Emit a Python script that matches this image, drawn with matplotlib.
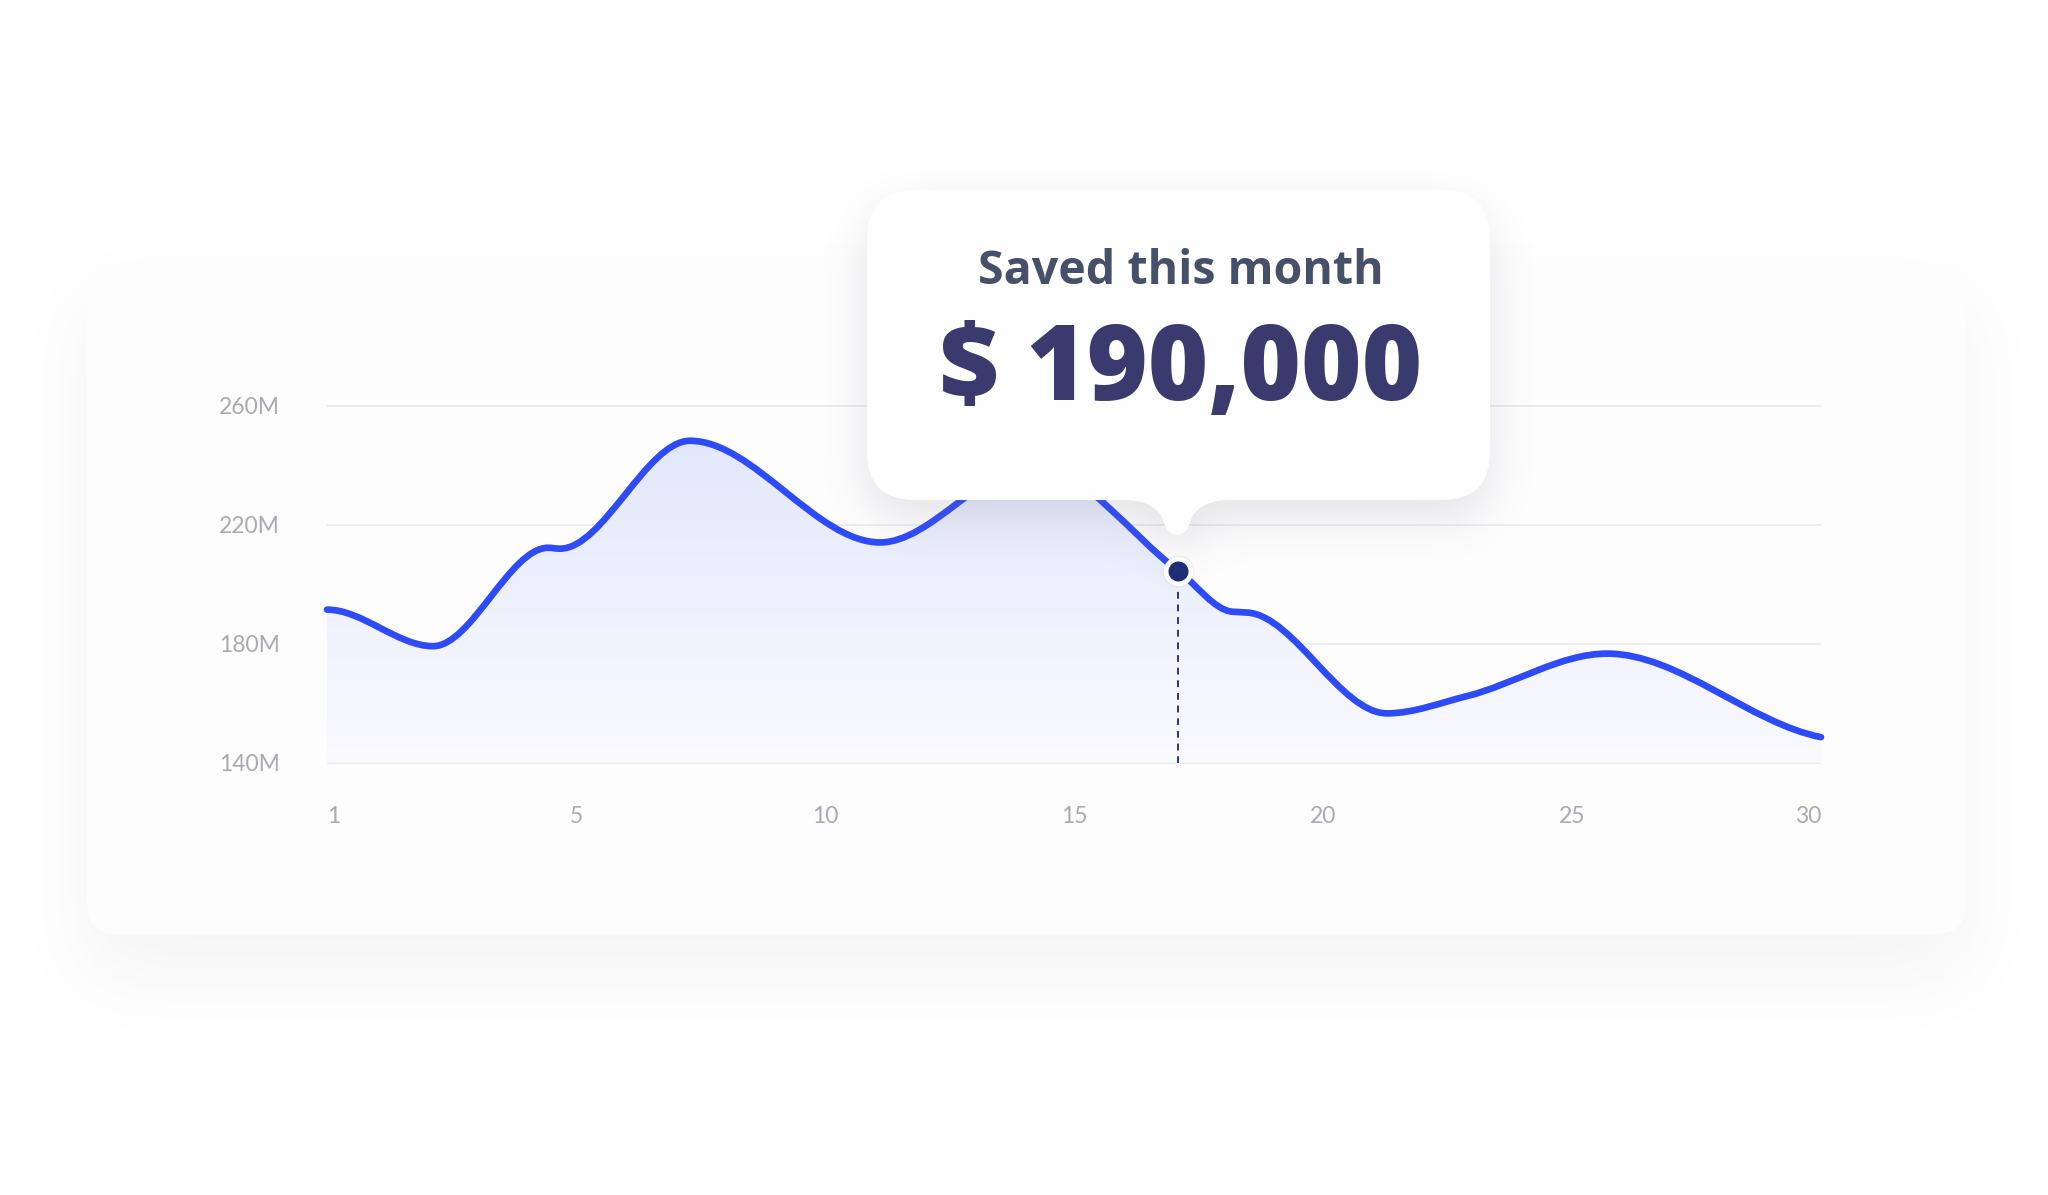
import numpy as np
import matplotlib
matplotlib.use("Agg")
import matplotlib.pyplot as plt
from matplotlib.path import Path
from matplotlib.patches import PathPatch, FancyBboxPatch

# data (x is the position along the 7 evenly spaced day labels)
pos = [0.0, 0.426, 0.888, 0.936, 1.458, 2.221, 2.835, 3.418, 3.635, 3.699, 4.257, 4.578, 5.141, 6.0]
values = [191.5, 179.2, 212.3, 212.0, 248.3, 214.1, 240.0, 204.6, 190.8, 190.5, 156.6, 162.4, 176.7, 148.6]
day_labels = ["1", "5", "10", "15", "20", "25", "30"]
y_ticks = [140, 180, 220, 260]
y_labels = ["140M", "180M", "220M", "260M"]
highlight = 7
tooltip_title = "Saved this month"
tooltip_value = "$ 190,000"

W, H = 2048, 1195
line_color = "#2e4bfa"
tick_color = "#aaaab5"


def monotone_path(xs, ys, start_slope=0.0, end_scale=0.5):
    xs = np.asarray(xs, float)
    ys = np.asarray(ys, float)
    n = len(xs)
    h = np.diff(xs)
    d = np.diff(ys) / h
    m = np.zeros(n)
    for i in range(1, n - 1):
        if d[i - 1] * d[i] > 0:
            w1 = 2 * h[i] + h[i - 1]
            w2 = h[i] + 2 * h[i - 1]
            m[i] = (w1 + w2) / (w1 / d[i - 1] + w2 / d[i])
    m[0] = start_slope
    m[-1] = d[-1] * end_scale
    verts = [(xs[0], ys[0])]
    codes = [Path.MOVETO]
    for i in range(n - 1):
        verts += [(xs[i] + h[i] / 3, ys[i] + m[i] * h[i] / 3),
                  (xs[i + 1] - h[i] / 3, ys[i + 1] - m[i + 1] * h[i] / 3),
                  (xs[i + 1], ys[i + 1])]
        codes += [Path.CURVE4] * 3
    return verts, codes


def soft_shadow(ax, path, dx, dy, sigma, alpha, color=(0.42, 0.42, 0.48), z=0):
    ext = path.get_extents()
    pad = 4 * sigma
    x0, x1 = int(ext.x0 + dx - pad), int(ext.x1 + dx + pad)
    y0, y1 = int(ext.y0 + dy - pad), int(ext.y1 + dy + pad)
    xs = np.arange(x0, x1) + 0.5
    ys = np.arange(y0, y1) + 0.5
    X, Y = np.meshgrid(xs - dx, ys - dy)
    inside = path.contains_points(np.column_stack([X.ravel(), Y.ravel()])).reshape(X.shape).astype(float)
    ky = np.fft.fftfreq(inside.shape[0])
    kx = np.fft.fftfreq(inside.shape[1])
    G = np.exp(-2 * (np.pi * sigma) ** 2 * (ky[:, None] ** 2 + kx[None, :] ** 2))
    blurred = np.real(np.fft.ifft2(np.fft.fft2(inside) * G))
    rgba = np.zeros(inside.shape + (4,))
    rgba[..., :3] = color
    rgba[..., 3] = np.clip(blurred, 0, 1) * alpha
    ax.imshow(rgba, extent=(x0, x1, y1, y0), interpolation="bilinear", aspect="auto", zorder=z)


fig = plt.figure(figsize=(W / 100, H / 100), dpi=100)
fig.patch.set_facecolor("white")

# background with the card
bg = fig.add_axes([0, 0, 1, 1], zorder=0)
bg.set_axis_off()
card = FancyBboxPatch((87, 262), 1879, 672, boxstyle="round,pad=0,rounding_size=30",
                      fc="#fdfdfe", ec="none", zorder=2)
bg.add_patch(card)
soft_shadow(bg, card.get_path(), 0, 40, 36, 0.075, z=1)
bg.set_xlim(0, W)
bg.set_ylim(H, 0)

# chart
left, right, top, bottom = 327, 1821, 404.5, 764.2
ax = fig.add_axes([left / W, (H - bottom) / H, (right - left) / W, (bottom - top) / H], zorder=1)
ax.set_facecolor("none")
for s in ax.spines.values():
    s.set_visible(False)

verts, codes = monotone_path(pos, values)
fill_path = Path(verts + [(pos[-1], 140), (pos[0], 140), (pos[0], values[0])],
                 codes + [Path.LINETO, Path.LINETO, Path.CLOSEPOLY])
clip = PathPatch(fill_path, fc="none", ec="none")
ax.add_patch(clip)
top_c = np.array([226, 231, 252]) / 255
bot_c = np.array([250, 250, 255]) / 255
t = np.linspace(0, 1, 256)[:, None]
grad = (bot_c[None, :] * (1 - t) + top_c[None, :] * t)[:, None, :]
im = ax.imshow(grad, extent=(0, 6, 140, 250), origin="lower", aspect="auto", zorder=1)
im.set_clip_path(clip)
ax.set_xlim(0, 6)
ax.set_ylim(139.5, 260.5)

ax.add_patch(PathPatch(Path(verts, codes), fill=False, ec=line_color, lw=4.8,
                       capstyle="round", joinstyle="round", clip_on=False, zorder=3))

mx, mv = pos[highlight], values[highlight]
ax.plot([mx, mx], [140, mv], color="#2b3573", lw=1.4, dashes=(3.5, 3.0), zorder=2)
ax.plot(mx, mv, "o", ms=23, mfc="#000000", mec="none", alpha=0.06, zorder=4, clip_on=False)
ax.plot(mx, mv, "o", ms=21.5, mfc="white", mec="none", zorder=4, clip_on=False)
ax.plot(mx, mv, "o", ms=14.4, mfc="#1f2e74", mec="none", zorder=5, clip_on=False)

ax.set_yticks(y_ticks)
ax.set_yticklabels(y_labels)
ax.set_xticks(range(len(day_labels)))
ax.set_xticklabels(day_labels)
ax.yaxis.grid(True, color="#e6e6f0", lw=1.1)
ax.set_axisbelow(True)
ax.tick_params(axis="y", length=0, pad=77.8, labelsize=16.5, labelcolor=tick_color)
ax.tick_params(axis="x", length=0, pad=30, labelsize=16.5, labelcolor=tick_color)
for lab in ax.get_yticklabels():
    lab.set_ha("left")
    lab.set_family("Lato")
xl = ax.get_xticklabels()
for lab in xl:
    lab.set_family("Lato")
xl[0].set_ha("left")
xl[-1].set_ha("right")

# tooltip overlay
ov = fig.add_axes([0, 0, 1, 1], zorder=3)
ov.set_axis_off()
ov.set_facecolor("none")
L, R, T, B, r = 867, 1490, 190, 500, 48
px, tip, hw = 1177, 537, 52
tv = [(L + r, T), (R - r, T), (R, T), (R, T + r), (R, B - r), (R, B), (R - r, B),
      (px + hw, B), (px + hw - 24, B), (px + hw - 36, B + 15),
      (px + 10, tip - 7), (px, tip + 3), (px - 10, tip - 7),
      (px - hw + 36, B + 15), (px - hw + 24, B), (px - hw, B),
      (L + r, B), (L, B), (L, B - r), (L, T + r), (L, T), (L + r, T), (L + r, T)]
tc = [Path.MOVETO, Path.LINETO, Path.CURVE3, Path.CURVE3, Path.LINETO, Path.CURVE3, Path.CURVE3,
      Path.LINETO, Path.CURVE3, Path.CURVE3,
      Path.LINETO, Path.CURVE3, Path.CURVE3,
      Path.LINETO, Path.CURVE3, Path.CURVE3,
      Path.LINETO, Path.CURVE3, Path.CURVE3, Path.LINETO, Path.CURVE3, Path.CURVE3, Path.CLOSEPOLY]
tip_path = Path(tv, tc)
soft_shadow(ov, tip_path, 0, 18, 22, 0.17, z=1)
ov.add_patch(PathPatch(tip_path, fc="#fefefe", ec="none", zorder=2))
ov.text(1181, 284, tooltip_title, ha="center", va="baseline", fontsize=33.5,
        fontweight="bold", family="Open Sans", color="#465068", zorder=3)
ov.text(1181, 400, tooltip_value, ha="center", va="baseline", fontsize=74.6,
        fontweight="heavy", family="Open Sans", color="#3a3a6e", zorder=3)
ov.set_xlim(0, W)
ov.set_ylim(H, 0)

fig.savefig("out.png", dpi=100)
